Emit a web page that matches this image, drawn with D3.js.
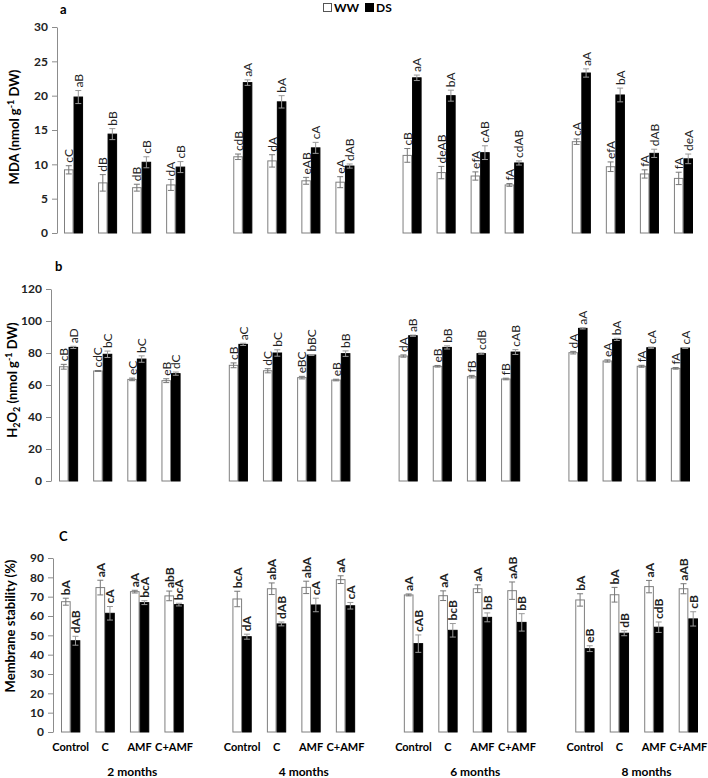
<!DOCTYPE html>
<html>
<head>
<meta charset="utf-8">
<script src="https://cdn.jsdelivr.net/npm/d3@7"></script>
<style>
  body { margin: 0; background: #fff; }
  text { font-family: Lato, "Open Sans", sans-serif; }
  .tick text { font-weight: bold; font-size: 12px; fill: #222; }
  .tick line, .domain { stroke: #8c8c8c; }
</style>
</head>
<body>
<div id="chart"></div>
<script>
// categories
var months = ["2 months", "4 months", "6 months", "8 months"];
var treatments = ["Control", "C", "AMF", "C+AMF"];
var series = ["WW", "DS"];

// a - MDA (one inner array per month, in treatment order)
var mdaWW    = [[9.2, 7.3, 6.6, 7.0], [11.1, 10.5, 7.6, 7.4], [11.3, 8.8, 8.3, 7.0], [13.3, 9.65, 8.6, 7.95]];
var mdaWWErr = [[0.6, 1.2, 0.5, 0.8], [0.4, 0.9, 0.5, 0.8], [1.0, 0.9, 0.6, 0.2], [0.4, 0.7, 0.6, 0.9]];
var mdaDS    = [[19.8, 14.4, 10.3, 9.6], [21.9, 19.1, 12.4, 9.75], [22.6, 20.0, 11.7, 10.2], [23.3, 20.1, 11.6, 10.8]];
var mdaDSErr = [[0.95, 0.8, 0.8, 0.8], [0.4, 0.9, 0.8, 0.3], [0.4, 0.8, 1.0, 0.3], [0.6, 1.0, 0.6, 0.7]];
var mdaWWLab = [["cC", "dB", "dB", "dA"], ["cdB", "dA", "eAB", "eA"], ["cB", "deAB", "efA", "fA"], ["cA", "efA", "fA", "fA"]];
var mdaDSLab = [["aB", "bB", "cB", "cB"], ["aA", "bA", "cA", "dAB"], ["aA", "bA", "cAB", "cdAB"], ["aA", "bA", "dAB", "deA"]];
var mdaTicks = [0, 5, 10, 15, 20, 25, 30];

// b - H2O2
var h2o2WW    = [[71.4, 68.75, 63.5, 62.7], [72.3, 68.9, 64.6, 63.1], [78.1, 71.7, 65.2, 63.75], [80.2, 75.0, 71.7, 70.4]];
var h2o2WWErr = [[1.5, 0.3, 0.8, 1.2], [1.5, 1.3, 0.8, 0.5], [0.7, 0.5, 0.8, 0.5], [0.8, 0.7, 0.6, 0.5]];
var h2o2DS    = [[83.5, 79.2, 76.2, 67.1], [85.4, 80.0, 78.75, 79.6], [90.8, 83.5, 79.6, 80.6], [95.4, 88.5, 83.3, 83.1]];
var h2o2DSErr = [[0.7, 2.0, 2.0, 1.0], [0.7, 2.0, 0.3, 1.7], [0.4, 1.0, 0.4, 1.5], [0.4, 0.7, 0.4, 0.3]];
var h2o2WWLab = [["cB", "cdC", "eC", "eB"], ["cB", "dC", "eBC", "eB"], ["dA", "eB", "fB", "fB"], ["dA", "eA", "fA", "fA"]];
var h2o2DSLab = [["aD", "bC", "bC", "dC"], ["aC", "bC", "bBC", "bB"], ["aB", "bB", "cdB", "cAB"], ["aA", "bA", "cA", "cA"]];
var h2o2Ticks = [0, 20, 40, 60, 80, 100, 120];

// c - membrane stability
var msWW    = [[67.4, 74.7, 72.6, 70.4], [68.8, 74.1, 74.8, 78.8], [70.9, 70.5, 74.1, 73.1], [68.3, 71.0, 75.2, 74.1]];
var msWWErr = [[1.8, 3.8, 0.7, 2.5], [4.0, 3.0, 3.2, 2.0], [0.5, 2.5, 2.0, 4.5], [3.2, 3.8, 3.2, 2.6]];
var msDS    = [[47.2, 61.4, 66.9, 65.9], [49.3, 55.9, 65.7, 65.3], [45.7, 52.6, 59.3, 56.7], [43.1, 51.1, 54.2, 58.5]];
var msDSErr = [[2.3, 3.5, 1.0, 0.7], [1.3, 1.0, 3.5, 1.7], [4.5, 3.5, 2.3, 4.5], [1.5, 1.3, 2.7, 3.7]];
var msWWLab = [["bA", "aA", "aA", "abB"], ["bcA", "abA", "abA", "aA"], ["aA", "aA", "aA", "aAB"], ["bA", "bA", "aA", "aAB"]];
var msDSLab = [["dAB", "cA", "bcA", "bcA"], ["dA", "dAB", "cA", "cA"], ["cAB", "bcB", "bB", "bB"], ["eB", "dB", "cdB", "cB"]];
var msTicks = [0, 10, 20, 30, 40, 50, 60, 70, 80, 90];

var W = 708, H = 778;
var svg = d3.select("#chart").append("svg")
    .attr("width", W)
    .attr("height", H);

// legend
var legend = svg.append("g").attr("transform", "translate(323,3)");
series.forEach(function(s, i) {
  var gx = i * 42;
  legend.append("rect")
    .attr("x", gx + 0.5).attr("y", 0.5)
    .attr("width", 8).attr("height", 8)
    .attr("fill", s == "WW" ? "#fff" : "#000")
    .attr("stroke", s == "WW" ? "#555" : "#000");
  legend.append("text")
    .attr("x", gx + 11).attr("y", 9)
    .style("font-weight", "bold").style("font-size", "12px")
    .text(s);
});

// one panel
function drawPanel(p) {
  var g = svg.append("g");

  var y = d3.scaleLinear().domain([0, p.max]).range([p.y0, p.y1]);
  var x = d3.scaleBand().domain(months).range(p.xr).paddingInner(0.284).paddingOuter(0);
  var xt = d3.scaleBand().domain(treatments).range([0, x.bandwidth()]).paddingInner(0.44).paddingOuter(0);
  var xs = d3.scaleBand().domain(series).range([0, xt.bandwidth()]);

  // y axis
  g.append("g")
    .attr("transform", "translate(" + p.ax + ",0)")
    .call(d3.axisLeft(y).tickValues(p.ticks).tickSize(5).tickPadding(4).tickSizeOuter(0));

  // panel letter
  g.append("text")
    .attr("x", p.letter[0]).attr("y", p.letter[1])
    .style("font-weight", "bold").style("font-size", "13px")
    .text(p.letter[2]);

  // y title
  var t = g.append("text")
    .attr("transform", "translate(" + p.tx + "," + p.ty + ") rotate(-90)")
    .attr("text-anchor", "middle")
    .style("font-weight", "bold").style("font-size", "13px");
  p.title(t);

  // flatten data
  var rows = [];
  months.forEach(function(m, mi) {
    treatments.forEach(function(tr, ti) {
      rows.push({m: m, t: tr, s: "WW", v: p.ww[mi][ti], e: p.wwErr[mi][ti], lab: p.wwLab[mi][ti]});
      rows.push({m: m, t: tr, s: "DS", v: p.ds[mi][ti], e: p.dsErr[mi][ti], lab: p.dsLab[mi][ti]});
    });
  });
  function bx(d) { return x(d.m) + xt(d.t) + xs(d.s); }

  var bar = g.selectAll(".bar").data(rows).enter().append("g");

  bar.append("rect")
    .attr("x", function(d) { return bx(d) + 0.5; })
    .attr("y", function(d) { return y(d.v); })
    .attr("width", xs.bandwidth() - 1)
    .attr("height", function(d) { return y(0) - y(d.v); })
    .attr("fill", function(d) { return d.s == "WW" ? "#fff" : "#000"; })
    .attr("stroke", function(d) { return d.s == "WW" ? "#7f7f7f" : "#000"; })
    .attr("stroke-width", 1);

  // error bars
  var cx = function(d) { return bx(d) + xs.bandwidth() / 2; };
  bar.append("path")
    .attr("d", function(d) {
      var c = cx(d), a = y(d.v + d.e), b = y(d.v - d.e);
      return "M" + c + "," + a + "V" + b + "M" + (c - 3) + "," + a + "H" + (c + 3) + "M" + (c - 3) + "," + b + "H" + (c + 3);
    })
    .attr("stroke", function(d) { return d.s == "WW" ? "#777" : "#999"; })
    .attr("stroke-width", 1)
    .attr("fill", "none");

  // letters
  bar.append("text")
    .attr("transform", function(d) {
      return "translate(" + (cx(d) + 4.5) + "," + (y(d.v + d.e) - 3) + ") rotate(-90)";
    })
    .style("font-size", "12px")
    .style("font-weight", p.boldLab ? "bold" : "normal")
    .style("fill", "#222")
    .text(function(d) { return d.lab; });

  if (p.cats) {
    months.forEach(function(m) {
      treatments.forEach(function(tr) {
        g.append("text")
          .attr("x", x(m) + xt(tr) + xt.bandwidth() / 2)
          .attr("y", 751)
          .attr("text-anchor", "middle")
          .style("font-weight", "bold").style("font-size", "11px")
          .text(tr);
      });
      g.append("text")
        .attr("x", x(m) + x.bandwidth() / 2 + 10)
        .attr("y", 776)
        .attr("text-anchor", "middle")
        .style("font-weight", "bold").style("font-size", "12px")
        .text(m);
    });
  }
}

drawPanel({
  max: 30, y0: 233, y1: 27, ax: 57, xr: [64, 693], ticks: mdaTicks,
  ww: mdaWW, wwErr: mdaWWErr, ds: mdaDS, dsErr: mdaDSErr, wwLab: mdaWWLab, dsLab: mdaDSLab,
  letter: [60, 14, "a"], tx: 19, ty: 127,
  title: function(t) {
    t.append("tspan").text("MDA (nmol g");
    t.append("tspan").attr("dy", -5).style("font-size", "9px").text("-1");
    t.append("tspan").attr("dy", 5).text(" DW)");
  }
});

drawPanel({
  max: 120, y0: 481, y1: 289, ax: 51, xr: [59, 690], ticks: h2o2Ticks,
  ww: h2o2WW, wwErr: h2o2WWErr, ds: h2o2DS, dsErr: h2o2DSErr, wwLab: h2o2WWLab, dsLab: h2o2DSLab,
  letter: [55, 271, "b"], tx: 17, ty: 380,
  title: function(t) {
    t.append("tspan").text("H");
    t.append("tspan").attr("dy", 3).style("font-size", "9px").text("2");
    t.append("tspan").attr("dy", -3).text("O");
    t.append("tspan").attr("dy", 3).style("font-size", "9px").text("2");
    t.append("tspan").attr("dy", -3).text(" (nmol g");
    t.append("tspan").attr("dy", -5).style("font-size", "9px").text("-1");
    t.append("tspan").attr("dy", 5).text(" DW)");
  }
});

drawPanel({
  max: 90, y0: 732, y1: 558, ax: 53, xr: [61, 698], ticks: msTicks,
  ww: msWW, wwErr: msWWErr, ds: msDS, dsErr: msDSErr, wwLab: msWWLab, dsLab: msDSLab,
  letter: [59, 541, "C"], tx: 15, ty: 626, boldLab: true, cats: true,
  title: function(t) { t.text("Membrane stability (%)"); }
});
</script>
</body>
</html>
